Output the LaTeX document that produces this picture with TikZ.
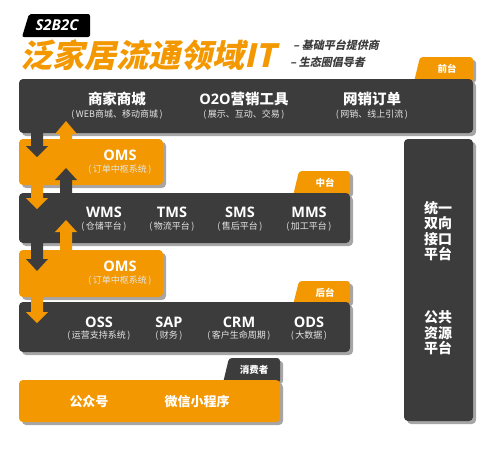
\documentclass[tikz,border=0pt]{standalone}
\usepackage{fontspec}
\setmainfont{Open Sans}
\newfontfamily\cjk{Noto Sans CJK SC}
\newfontfamily\cjksl[FakeSlant=0.22]{Noto Sans CJK SC}
\definecolor{orangec}{HTML}{F39800}
\definecolor{darkc}{HTML}{3C3C3C}
\definecolor{shadowc}{HTML}{A6A6A6}
\definecolor{subc}{HTML}{E6E6E6}
\newcommand\blockarrow[5]{\fill[#5] (#1-6,#2) -- (#1-6,#3) -- (#1-11,#3) -- (#1,#4) -- (#1+11,#3) -- (#1+6,#3) -- (#1+6,#2) -- cycle;}
\newcommand\pl[1]{(\,#1\,)}
\tikzset{
  boxr/.style={rounded corners=4pt},
  mainlbl/.style={text=white, font=\bfseries\fontsize{14.5}{16}\selectfont, inner sep=0pt},
  cjkmain/.style={text=white, font=\cjk\bfseries\fontsize{14.5}{16}\selectfont, inner sep=0pt},
  sublbl/.style={text=subc, font=\cjk\fontsize{9}{10}\selectfont, inner sep=0pt},
  tablbl/.style={text=white, font=\cjk\bfseries\fontsize{9.5}{10}\selectfont, inner sep=0pt},
  sidelbl/.style={text=white, font=\cjk\bfseries\fontsize{14}{15.5}\selectfont, align=center, inner sep=0pt},
  conslbl/.style={text=white, font=\cjk\bfseries\fontsize{13}{14}\selectfont, inner sep=0pt},
  taglbl/.style={text=darkc, font=\cjksl\bfseries\fontsize{11}{17}\selectfont, inner sep=0pt, align=left, anchor=north west},
}
\begin{document}
\begin{tikzpicture}[x=1pt,y=-1pt]
\useasboundingbox (0,0) rectangle (499,455);
% ---------- title ----------
\fill[black, rounded corners=2pt] (22,37) -- (29,14) -- (90,14) -- (90,37) -- cycle;
\node[text=white, font=\bfseries\itshape\fontsize{15}{16}\selectfont, inner sep=0pt] (s2b2c) at (57,25.5) {S2B2C};
\node[text=orangec, font=\cjksl\bfseries\fontsize{32}{34}\selectfont, inner sep=0pt, anchor=west, text height=26pt, text depth=3pt] (title) at (20,56) {泛家居流通领域IT};
\node[taglbl] (tags) at (290,40) {\hspace*{3pt}– 基础平台提供商\\– 生态圈倡导者};
% ---------- shadows ----------
\foreach \a/\b/\c/\d in {19/79/473/133, 19/139/163/185, 19/193/350/243, 19/250/163/297, 19/302/350/352, 19/380/280/422, 404/139/473/421}
  \fill[shadowc, boxr] (\a+3,\b+3) rectangle (\c+3,\d+3);
\begin{scope}[shift={(3,3)}]
  \fill[shadowc, rounded corners=3pt] (414,80) -- (420,57) -- (473,57) -- (473,80) -- cycle;
  \fill[shadowc, rounded corners=3pt] (293,194) -- (299,171) -- (350,171) -- (350,194) -- cycle;
  \fill[shadowc, rounded corners=3pt] (293,303) -- (299,281) -- (350,281) -- (350,303) -- cycle;
  \fill[shadowc, rounded corners=3pt] (223,381) -- (229,358) -- (280,358) -- (280,381) -- cycle;
\end{scope}
% ---------- tabs ----------
\fill[orangec, rounded corners=3pt] (414,82) -- (420,57) -- (473,57) -- (473,82) -- cycle;
\fill[orangec, rounded corners=3pt] (293,196) -- (299,171) -- (350,171) -- (350,196) -- cycle;
\fill[orangec, rounded corners=3pt] (293,305) -- (299,281) -- (350,281) -- (350,305) -- cycle;
\fill[darkc, rounded corners=3pt] (223,383) -- (229,358) -- (280,358) -- (280,383) -- cycle;
% ---------- boxes ----------
\fill[darkc, boxr] (19,79) rectangle (473,133);
\fill[orangec, boxr] (19,139) rectangle (163,185);
\fill[darkc, boxr] (19,193) rectangle (350,243);
\fill[orangec, boxr] (19,250) rectangle (163,297);
\fill[darkc, boxr] (19,302) rectangle (350,352);
\fill[orangec, boxr] (19,380) rectangle (280,422);
\fill[darkc, boxr] (404,139) rectangle (473,421);
% ---------- arrows ----------
\blockarrow{37}{128}{146}{157}{darkc}
\blockarrow{66}{142}{134}{121}{orangec}
\blockarrow{37}{182}{198}{209}{orangec}
\blockarrow{66}{197}{180}{168}{darkc}
\blockarrow{66}{253}{232}{220}{orangec}
\blockarrow{37}{240}{259}{271}{darkc}
\blockarrow{37}{294}{312}{323}{orangec}
% ---------- tab labels ----------
\node[tablbl] (tqian) at (447,68.5) {前台};
\node[tablbl] (tzhong) at (325,182.5) {中台};
\node[tablbl] (thou) at (325,292.5) {后台};
\node[tablbl] (txiao) at (254,369.5) {消费者};
% ---------- front ----------
\node[cjkmain] (shop) at (117,99) {商家商城};
\node[sublbl] (shops) at (117,115) {\pl{WEB商城、移动商城}};
\node[mainlbl] (o2o) at (244,99) {O2O{\cjk 营销工具}};
\node[sublbl] (o2os) at (244,115) {\pl{展示、互动、交易}};
\node[cjkmain] (net) at (372,99) {网销订单};
\node[sublbl] (nets) at (372,115) {\pl{网销、线上引流}};
% ---------- OMS 1 ----------
\node[mainlbl] (oms1) at (120,155) {OMS};
\node[sublbl] (oms1s) at (120,169.5) {\pl{订单中枢系统}};
% ---------- middle ----------
\node[mainlbl] (wms) at (104,212) {WMS};
\node[sublbl] (wmss) at (104,227) {\pl{仓储平台}};
\node[mainlbl] (tms) at (172,212) {TMS};
\node[sublbl] (tmss) at (172,227) {\pl{物流平台}};
\node[mainlbl] (sms) at (240,212) {SMS};
\node[sublbl] (smss) at (240,227) {\pl{售后平台}};
\node[mainlbl] (mms) at (309,212) {MMS};
\node[sublbl] (mmss) at (309,227) {\pl{加工平台}};
% ---------- OMS 2 ----------
\node[mainlbl] (oms2) at (120,266) {OMS};
\node[sublbl] (oms2s) at (120,280.5) {\pl{订单中枢系统}};
% ---------- back ----------
\node[mainlbl] (oss) at (99,322) {OSS};
\node[sublbl] (osss) at (99,336) {\pl{运营支持系统}};
\node[mainlbl] (sap) at (169,322) {SAP};
\node[sublbl] (saps) at (169,336) {\pl{财务}};
\node[mainlbl] (crm) at (239,322) {CRM};
\node[sublbl] (crms) at (239,336) {\pl{客户生命周期}};
\node[mainlbl] (ods) at (309,322) {ODS};
\node[sublbl] (odss) at (309,336) {\pl{大数据}};
% ---------- consumer ----------
\node[conslbl] (gzh) at (89,402) {公众号};
\node[conslbl] (wx) at (197,402) {微信小程序};
% ---------- side ----------
\node[sidelbl] (iface) at (438,231) {统一\\双向\\接口\\平台};
\node[sidelbl] (res) at (438,333) {公共\\资源\\平台};
\end{tikzpicture}
\end{document}
